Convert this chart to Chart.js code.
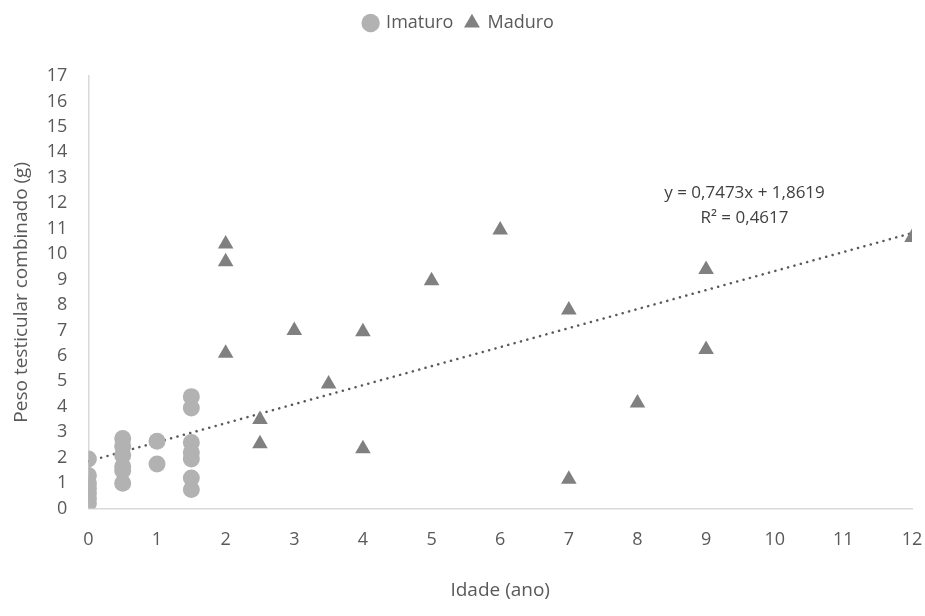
<!DOCTYPE html>
<html>
<head>
<meta charset="utf-8">
<script src="https://cdn.jsdelivr.net/npm/chart.js@4"></script>
<style>
  html, body { margin: 0; padding: 0; background: #fff; }
  #wrap { width: 925px; height: 616px; }
</style>
</head>
<body>
<div id="wrap"><canvas id="chart"></canvas></div>
<script>
// Imaturo (immature) points
const imaturoX = [0, 0, 0, 0, 0, 0, 0, 0.5, 0.5, 0.5, 0.5, 0.5, 0.5, 1, 1, 1.5, 1.5, 1.5, 1.5, 1.5, 1.5, 1.5];
const imaturoY = [1.95, 1.3, 1.0, 0.8, 0.6, 0.4, 0.2, 2.75, 2.45, 2.1, 1.65, 1.5, 1.0, 2.65, 1.75, 4.4, 3.95, 2.6, 2.2, 1.95, 1.2, 0.75];

// Maduro (mature) points
const maduroX = [1.5, 2, 2, 2, 2.5, 2.5, 3, 3.5, 4, 4, 5, 6, 7, 7, 8, 9, 9, 12];
const maduroY = [2.4, 10.4, 9.7, 6.1, 3.5, 2.55, 7.0, 4.9, 6.95, 2.35, 8.95, 10.95, 7.8, 1.15, 4.15, 9.4, 6.25, 10.65];

// linear trendline
const slope = 0.7473;
const intercept = 1.8619;
const trendX = [0, 12];
const eqLines = ['y = 0,7473x + 1,8619', 'R² = 0,4617'];

const font = '"Open Sans", sans-serif';
Chart.defaults.font.family = font;
Chart.defaults.color = '#595959';

function toPoints(xs, ys) {
  return xs.map((x, i) => ({ x: x, y: ys[i] }));
}

// extra room between legend and plot
const legendGap = {
  id: 'legendGap',
  beforeInit(chart) {
    const fit = chart.legend.fit;
    chart.legend.fit = function () {
      fit.bind(chart.legend)();
      this.height += 34;
    };
  }
};

const eqPlugin = {
  id: 'eqLabel',
  afterDatasetsDraw(chart) {
    const { ctx, scales } = chart;
    const px = scales.x.getPixelForValue(9.56);
    const py = scales.y.getPixelForValue(12.4);
    ctx.save();
    ctx.font = '17px ' + font;
    ctx.fillStyle = '#404040';
    ctx.textAlign = 'center';
    ctx.textBaseline = 'middle';
    ctx.fillText(eqLines[0], px, py);
    ctx.fillText(eqLines[1], px, py + 25);
    ctx.restore();
  }
};

new Chart(document.getElementById('chart'), {
  type: 'scatter',
  data: {
    datasets: [
      {
        label: 'Imaturo',
        data: toPoints(imaturoX, imaturoY),
        pointStyle: 'circle',
        pointRadius: 8.5,
        pointHoverRadius: 8.5,
        backgroundColor: '#b2b2b2',
        borderColor: '#b2b2b2',
        borderWidth: 0
      },
      {
        label: 'Maduro',
        data: toPoints(maduroX, maduroY),
        pointStyle: 'triangle',
        pointRadius: 9,
        pointHoverRadius: 9,
        backgroundColor: '#808080',
        borderColor: '#808080',
        borderWidth: 0
      },
      {
        label: 'trend',
        type: 'line',
        data: toPoints(trendX, trendX.map(x => slope * x + intercept)),
        borderColor: '#595959',
        borderWidth: 2.5,
        borderDash: [0.1, 6.5],
        borderCapStyle: 'round',
        pointRadius: 0,
        fill: false
      }
    ]
  },
  options: {
    responsive: true,
    maintainAspectRatio: false,
    animation: false,
    layout: { padding: { top: 2, right: 13, bottom: 10, left: 6 } },
    plugins: {
      tooltip: { enabled: false },
      legend: {
        position: 'top',
        labels: {
          usePointStyle: true,
          boxWidth: 13,
          boxHeight: 13,
          padding: 12,
          color: '#595959',
          font: { size: 18 },
          filter: item => item.text !== 'trend'
        }
      }
    },
    scales: {
      x: {
        type: 'linear',
        min: 0,
        max: 12,
        afterFit: scale => { scale.paddingRight = 0; },
        ticks: { stepSize: 1, font: { size: 18 }, color: '#595959', padding: 12 },
        grid: { display: false, drawTicks: true, tickLength: 8, color: '#d9d9d9' },
        border: { color: '#d9d9d9', width: 1.5 },
        title: { display: true, text: 'Idade (ano)', font: { size: 19 }, color: '#595959', padding: { top: 17 } }
      },
      y: {
        type: 'linear',
        min: 0,
        max: 17,
        ticks: { stepSize: 1, font: { size: 18 }, color: '#595959', padding: 14 },
        grid: { display: false, drawTicks: true, tickLength: 7, color: '#d9d9d9' },
        border: { color: '#d9d9d9', width: 1.5 },
        title: { display: true, text: 'Peso testicular combinado (g)', font: { size: 19 }, color: '#595959', padding: { bottom: 0 } }
      }
    }
  },
  plugins: [legendGap, eqPlugin]
});
</script>
</body>
</html>
